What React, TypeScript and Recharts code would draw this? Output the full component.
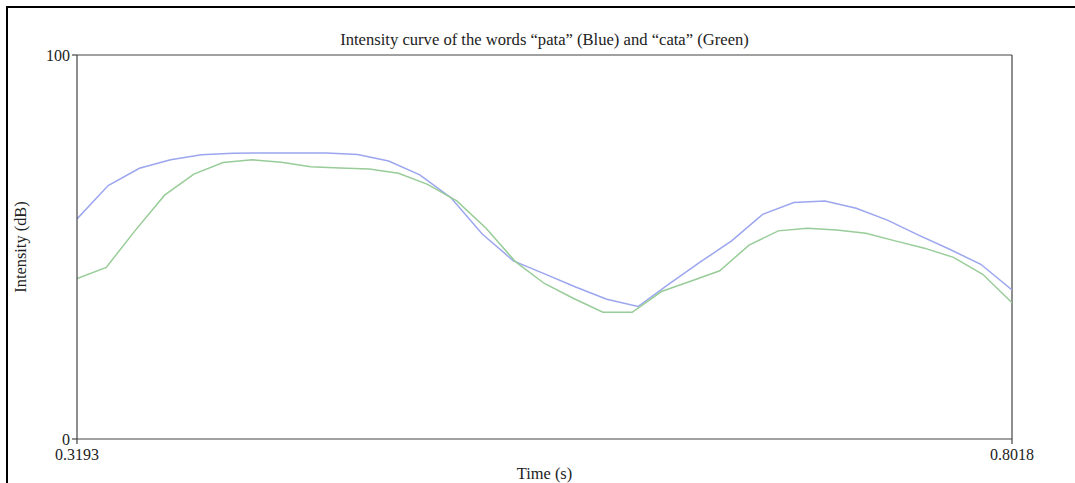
import React from 'react';
import { LineChart, Line, XAxis, YAxis, ReferenceLine } from 'recharts';

const titleText = 'Intensity curve of the words \u201Cpata\u201D (Blue) and \u201Ccata\u201D (Green)';
const xTicks = [0.3193, 0.8018];
const yTicks = [0, 100];

const pataTimes = [
  0.3193, 0.3354, 0.3515, 0.3676, 0.3836, 0.3997, 0.4158, 0.4319, 0.448, 0.4641,
  0.4801, 0.4962, 0.5123, 0.5284, 0.5445, 0.5606, 0.5766, 0.5927, 0.6088, 0.6249,
  0.641, 0.6571, 0.6731, 0.6892, 0.7053, 0.7214, 0.7375, 0.7536, 0.7696, 0.7857, 0.8018,
];
const pataIntensity = [
  57.3, 66.0, 70.5, 72.7, 74.0, 74.4, 74.5, 74.5, 74.5, 74.1,
  72.4, 68.8, 62.8, 53.4, 46.4, 43.0, 39.6, 36.4, 34.5, 40.4,
  46.1, 51.6, 58.5, 61.6, 62.0, 60.1, 57.0, 53.1, 49.4, 45.5, 38.8,
];

const cataTimes = [
  0.3193, 0.3344, 0.3495, 0.3645, 0.3796, 0.3947, 0.4098, 0.4248, 0.4399, 0.455,
  0.4701, 0.4852, 0.5002, 0.5153, 0.5304, 0.5455, 0.5605, 0.5756, 0.5907, 0.6058,
  0.6209, 0.6359, 0.651, 0.6661, 0.6812, 0.6962, 0.7113, 0.7264, 0.7415, 0.7566,
  0.7716, 0.7867, 0.8018,
];
const cataIntensity = [
  41.8, 44.7, 54.4, 63.5, 69.0, 72.0, 72.7, 72.1, 70.9, 70.6,
  70.3, 69.2, 66.3, 62.0, 54.9, 46.2, 40.5, 36.6, 33.0, 33.0,
  38.4, 41.1, 43.8, 50.5, 54.2, 54.9, 54.4, 53.6, 51.6, 49.7,
  47.3, 42.9, 35.5,
];

const pataData = pataTimes.map((t, i) => ({ t, v: pataIntensity[i] }));
const cataData = cataTimes.map((t, i) => ({ t, v: cataIntensity[i] }));

const FONT = '"Liberation Serif", "Times New Roman", serif';
const AXIS = '#444';
const TEXT = '#222';

const YLabel = (props: any) => {
  const vb = props.viewBox || {};
  const cy = vb.y + vb.height / 2;
  const x = 20;
  return (
    <text
      x={x}
      y={cy}
      transform={`rotate(-90 ${x} ${cy})`}
      textAnchor="middle"
      dominantBaseline="central"
      fontFamily={FONT}
      fontSize={16.4}
      fill={TEXT}
    >
      Intensity (dB)
    </text>
  );
};

const XLabel = (props: any) => {
  const vb = props.viewBox || {};
  const cx = vb.x + vb.width / 2;
  return (
    <text x={cx} y={473} textAnchor="middle" dominantBaseline="central" fontFamily={FONT} fontSize={16.4} fill={TEXT}>
      Time (s)
    </text>
  );
};

export default function App() {
  return (
    <div style={{ position: 'absolute', left: 0, top: 0, width: 1075, height: 483, background: '#fff', overflow: 'hidden' }}>
      <div
        style={{
          position: 'absolute',
          left: 6,
          top: 6,
          width: 1200,
          height: 600,
          borderLeft: '2px solid #000',
          borderTop: '2px solid #000',
        }}
      />
      <div
        style={{
          position: 'absolute',
          left: 77,
          width: 935,
          top: 31,
          textAlign: 'center',
          fontFamily: FONT,
          fontSize: 16.6,
          color: TEXT,
          lineHeight: '18px',
          whiteSpace: 'nowrap',
        }}
      >
        {titleText}
      </div>
      <div style={{ position: 'absolute', left: 0, top: 0 }}>
        <LineChart width={1075} height={483} margin={{ top: 55, right: 63, bottom: 0, left: 0 }}>
          <XAxis
            dataKey="t"
            type="number"
            domain={[0.3193, 0.8018]}
            ticks={xTicks}
            allowDataOverflow
            height={44}
            stroke={AXIS}
            strokeWidth={1.2}
            tickSize={5}
            tickMargin={5}
            tick={{ fill: TEXT, fontFamily: FONT, fontSize: 16 }}
            tickLine={{ stroke: AXIS }}
            interval={0}
            label={<XLabel />}
          />
          <YAxis
            type="number"
            domain={[0, 100]}
            ticks={yTicks}
            width={77}
            stroke={AXIS}
            strokeWidth={1.2}
            tickSize={5}
            tickMargin={2}
            tick={{ fill: TEXT, fontFamily: FONT, fontSize: 16 }}
            tickLine={{ stroke: AXIS }}
            interval={0}
            label={<YLabel />}
          />
          <ReferenceLine y={100} stroke={AXIS} strokeWidth={1.2} ifOverflow="extendDomain" />
          <ReferenceLine x={0.8018} stroke={AXIS} strokeWidth={1.2} ifOverflow="extendDomain" />
          <Line
            data={pataData}
            dataKey="v"
            type="linear"
            stroke="#9ba6ee"
            strokeWidth={1.5}
            dot={false}
            activeDot={false}
            isAnimationActive={false}
          />
          <Line
            data={cataData}
            dataKey="v"
            type="linear"
            stroke="#98cc98"
            strokeWidth={1.5}
            dot={false}
            activeDot={false}
            isAnimationActive={false}
          />
        </LineChart>
      </div>
    </div>
  );
}
